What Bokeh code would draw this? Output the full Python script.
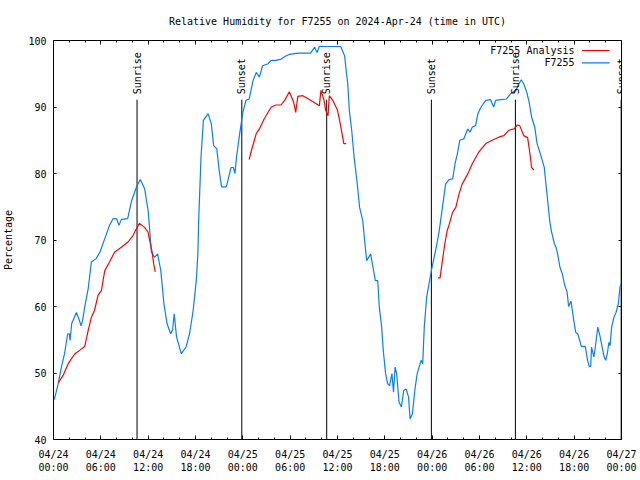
import math
from bokeh.plotting import figure
from bokeh.models import (ColumnDataSource, FixedTicker, LinearAxis, Range1d,
                          Label, Arrow)
from bokeh.embed import file_html
from bokeh.resources import INLINE

# ---------------- data (hours since 2024-04-24 00:00 UTC) ----------------
obs_hours = [0.1, 0.6, 1.0, 1.4, 1.8, 2.0, 2.1, 2.3, 2.9, 3.2, 3.5, 3.7, 4.0, 4.4, 4.8,
             5.4, 5.9, 6.5, 7.1, 7.55, 8.0, 8.3, 8.6, 9.4, 9.9, 10.5, 11.0, 11.55, 12.0,
             12.2, 12.4, 12.8, 13.2, 13.6, 14.0, 14.4, 14.85, 15.1, 15.3, 15.6, 16.2,
             16.8, 17.25, 17.7, 18.1, 18.3, 18.4, 18.7, 19.0, 19.6, 20.0, 20.3, 20.7,
             21.0, 21.3, 21.9, 22.1, 22.5, 22.8, 23.0, 23.2, 23.6, 24.0, 24.4, 24.8,
             25.3, 25.7, 26.1, 26.5, 27.2, 27.6, 28.2, 28.85, 29.5, 29.9, 31.0, 32.6,
             33.1, 33.4, 33.7, 36.4, 36.9, 37.1, 37.3, 37.5, 37.8, 38.1, 38.5, 38.8,
             39.2, 39.4, 39.7, 40.2, 40.5, 40.8, 41.1, 41.3, 41.6, 41.8, 42.1, 42.35,
             42.6, 42.9, 43.1, 43.3, 43.5, 43.8, 44.1, 44.4, 44.7, 45.0, 45.2, 45.5,
             45.8, 46.1, 46.6, 46.8, 47.0, 47.3, 47.6, 47.9, 48.25, 48.6, 48.9, 49.3,
             49.7, 50.15, 50.6, 50.9, 51.2, 51.5, 52.0, 52.5, 52.8, 53.1, 53.5, 53.8,
             54.2, 54.8, 55.4, 55.8, 56.05, 56.7, 57.4, 57.95, 58.6, 59.0, 59.3, 59.6,
             60.0, 60.3, 60.6, 61.0, 61.3, 61.7, 62.2, 62.6, 62.9, 63.1, 63.5, 63.7,
             63.9, 64.2, 64.5, 64.8, 65.1, 65.3, 65.6, 65.95, 66.2, 66.45, 66.7, 66.9,
             67.4, 67.7, 67.9, 68.1, 68.2, 68.5, 68.7, 69.0, 69.3, 69.55, 69.8, 70.0,
             70.2, 70.4, 70.55, 70.75, 71.05, 71.3, 71.6, 71.8, 72.0]
obs_rh = [46.0, 48.4, 50.9, 52.9, 55.9, 55.9, 54.9, 57.4, 59.1, 58.2, 57.1, 58.0, 60.2,
          62.7, 66.7, 67.2, 68.2, 70.2, 72.2, 73.2, 73.2, 72.2, 73.1, 73.2, 75.9, 77.9,
          79.1, 77.7, 74.4, 71.4, 68.2, 67.4, 67.9, 65.4, 60.4, 57.4, 55.9, 56.5, 58.9,
          55.4, 52.9, 53.9, 55.9, 59.4, 63.9, 67.9, 72.9, 82.5, 88.0, 89.0, 87.5, 84.2,
          83.7, 80.5, 78.0, 78.0, 78.9, 80.9, 80.9, 80.0, 82.5, 86.0, 89.2, 91.0, 91.2,
          94.0, 95.2, 94.5, 96.2, 96.5, 97.0, 97.0, 97.2, 97.7, 97.9, 98.1, 98.1, 99.0,
          98.2, 99.1, 99.1, 97.7, 95.5, 93.5, 89.5, 86.5, 82.5, 78.5, 74.9, 72.9, 70.4,
          66.9, 67.9, 65.9, 63.9, 63.9, 59.9, 56.9, 53.4, 49.9, 48.4, 48.1, 49.9, 47.1,
          50.9, 49.9, 45.6, 44.9, 47.4, 47.6, 46.4, 43.1, 43.9, 47.4, 49.9, 51.9, 51.4,
          56.9, 61.4, 63.4, 65.4, 67.4, 69.4, 71.4, 74.9, 78.4, 79.1, 79.2, 81.5, 83.0,
          85.0, 85.2, 86.7, 86.2, 87.0, 87.2, 89.0, 90.0, 91.0, 91.1, 90.0, 91.0, 91.1,
          91.2, 92.0, 92.5, 93.5, 94.1, 93.5, 92.2, 90.7, 88.5, 87.0, 84.5, 83.0, 81.0,
          76.4, 72.9, 71.4, 69.4, 68.9, 67.9, 65.9, 64.9, 63.2, 62.2, 60.0, 60.8, 57.9,
          56.1, 55.9, 54.9, 54.0, 54.0, 51.9, 51.0, 51.0, 53.9, 52.4, 54.1, 56.9, 55.4,
          53.9, 52.4, 51.9, 52.9, 54.6, 54.1, 56.9, 58.4, 59.1, 60.4, 62.9, 63.5]

NaN = float("nan")
ana_hours = [0.6, 1.2, 1.86, 2.7, 3.3, 3.96, 4.4, 4.8, 5.2, 5.65, 6.07, 6.5, 7.1, 7.76,
             8.6, 9.45, 10.1, 10.5, 10.9, 11.55, 11.98, 12.2, 12.5, 12.7, 12.9,
             NaN,
             24.8, 25.1, 25.7, 26.1, 26.7, 27.6, 28.2, 28.85, 29.3, 29.9, 30.45, 30.7,
             30.97, 31.6, 32.6, 33.7, 33.9, 34.3, 34.5, 34.8, 34.96, 35.4, 36.0, 36.35,
             36.65, 36.8, 37.1,
             NaN,
             48.75, 49.0, 49.3, 49.6, 49.9, 50.15, 50.6, 51.0, 51.4, 51.8, 52.5, 53.1,
             53.9, 54.8, 55.6, 56.5, 57.1, 57.7, 58.4, 58.8, 59.1, 59.6, 60.1, 60.4,
             60.6, 60.9]
ana_rh = [48.5, 49.6, 51.4, 52.9, 53.4, 54.0, 56.4, 58.4, 59.4, 61.7, 62.4, 65.4, 66.7,
          68.2, 68.9, 69.7, 70.7, 71.7, 72.5, 71.9, 71.2, 69.9, 68.2, 66.4, 65.2,
          NaN,
          82.1, 83.5, 86.0, 86.7, 88.2, 90.0, 90.3, 90.3, 91.0, 92.3, 90.7, 89.2, 91.6,
          91.7, 91.0, 90.2, 92.5, 91.0, 89.5, 88.7, 91.7, 91.0, 89.5, 87.5, 85.5, 84.5,
          84.5,
          NaN,
          64.3, 64.3, 66.9, 69.4, 71.4, 72.3, 74.2, 74.9, 76.9, 78.4, 79.9, 81.5, 83.2,
          84.5, 85.0, 85.5, 85.7, 86.5, 86.7, 87.3, 87.2, 85.7, 85.4, 82.9, 80.9, 80.5]

event_hours = [10.59, 23.87, 34.63, 47.9, 58.55, 71.96]
event_names = ["Sunrise", "Sunset", "Sunrise", "Sunset", "Sunrise", "Sunset"]

x_major = [0, 6, 12, 18, 24, 30, 36, 42, 48, 54, 60, 66, 72]
x_minor = list(range(0, 73, 2))
x_tick_labels = ["04/24\n00:00", "04/24\n06:00", "04/24\n12:00", "04/24\n18:00",
                 "04/25\n00:00", "04/25\n06:00", "04/25\n12:00", "04/25\n18:00",
                 "04/26\n00:00", "04/26\n06:00", "04/26\n12:00", "04/26\n18:00",
                 "04/27\n00:00"]
y_major = [40, 50, 60, 70, 80, 90, 100]

series_names = ["F7255 Analysis", "F7255"]
series_colors = ["#ff0000", "#0a7cff"]

# ---------------- figure ----------------
FONT = "DejaVu Sans Mono"
FS = "10px"

p = figure(width=640, height=480, output_backend="svg", toolbar_location=None,
           x_range=Range1d(0, 72), y_range=Range1d(40, 100),
           min_border_left=52, min_border_right=19, min_border_top=40,
           min_border_bottom=41,
           title="Relative Humidity for F7255 on 2024-Apr-24 (time in UTC)")
p.title.align = "center"
p.title.text_font = FONT
p.title.text_font_size = FS
p.title.text_font_style = "normal"
p.title.text_color = "black"
p.title.standoff = 27
p.grid.visible = False
p.background_fill_color = "white"
p.border_fill_color = "white"
p.outline_line_color = "black"
p.outline_line_width = 1

xt = FixedTicker(ticks=x_major, minor_ticks=x_minor)
yt = FixedTicker(ticks=y_major, minor_ticks=[])

xa = p.xaxis[0]
xa.ticker = xt
xa.major_label_overrides = dict(zip(x_major, x_tick_labels))
ya = p.yaxis[0]
ya.ticker = yt
ya.axis_label = "Percentage"
ya.axis_label_text_font = FONT
ya.axis_label_text_font_size = FS
ya.axis_label_text_font_style = "normal"
ya.axis_label_text_color = "black"
ya.axis_label_standoff = 11

for ax in (xa, ya):
    ax.major_tick_in = 4
    ax.major_tick_out = 0
    ax.minor_tick_in = 2
    ax.minor_tick_out = 0
    ax.axis_line_color = "black"
    ax.major_tick_line_color = "black"
    ax.minor_tick_line_color = "black"
    ax.major_label_text_font = FONT
    ax.major_label_text_font_size = FS
    ax.major_label_text_color = "black"
xa.major_label_standoff = 9
ya.major_label_standoff = 7
ya.major_tick_in = 3

# mirror axes (ticks only, no labels)
top = LinearAxis(ticker=FixedTicker(ticks=x_major, minor_ticks=x_minor))
right = LinearAxis(ticker=FixedTicker(ticks=y_major, minor_ticks=[]))
top.major_label_overrides = {t: "" for t in x_major}
right.major_label_overrides = {t: "" for t in y_major}
for ax in (top, right):
    ax.major_tick_in = 4
    ax.major_tick_out = 0
    ax.minor_tick_in = 2
    ax.minor_tick_out = 0
    ax.major_label_standoff = 0
    ax.major_label_text_font = FONT
    ax.major_label_text_font_size = FS
    ax.axis_line_color = "black"
right.major_tick_in = 3
p.add_layout(top, "above")
p.add_layout(right, "right")

# sunrise / sunset markers
ev = ColumnDataSource(dict(x=event_hours, ytop=[91.1] * len(event_hours)))
p.segment(x0="x", y0=40, x1="x", y1="ytop", source=ev, line_color="black",
          line_width=1)
for h, name in zip(event_hours, event_names):
    p.add_layout(Label(x=h, y=91.9, text=name, angle=math.pi / 2,
                       text_align="left", text_baseline="middle",
                       text_font=FONT, text_font_size=FS, text_color="black"))

# series
p.line(obs_hours, obs_rh, line_color=series_colors[1], line_width=1.2)
p.line(ana_hours, ana_rh, line_color=series_colors[0], line_width=1.2)

# gnuplot-style key: text right-aligned, sample line to its right
key_rows = [98.5, 96.65]
for name, color, yk in zip(series_names, series_colors, key_rows):
    p.add_layout(Label(x=66.05, y=yk, text=name, text_align="right",
                       text_baseline="middle", text_font=FONT, text_font_size=FS,
                       text_color="black"))
    p.add_layout(Arrow(end=None, start=None, x_start=67.0, y_start=yk, x_end=70.5,
                       y_end=yk, line_color=color, line_width=1.2))

open("out.html", "w").write(file_html(p, INLINE))
